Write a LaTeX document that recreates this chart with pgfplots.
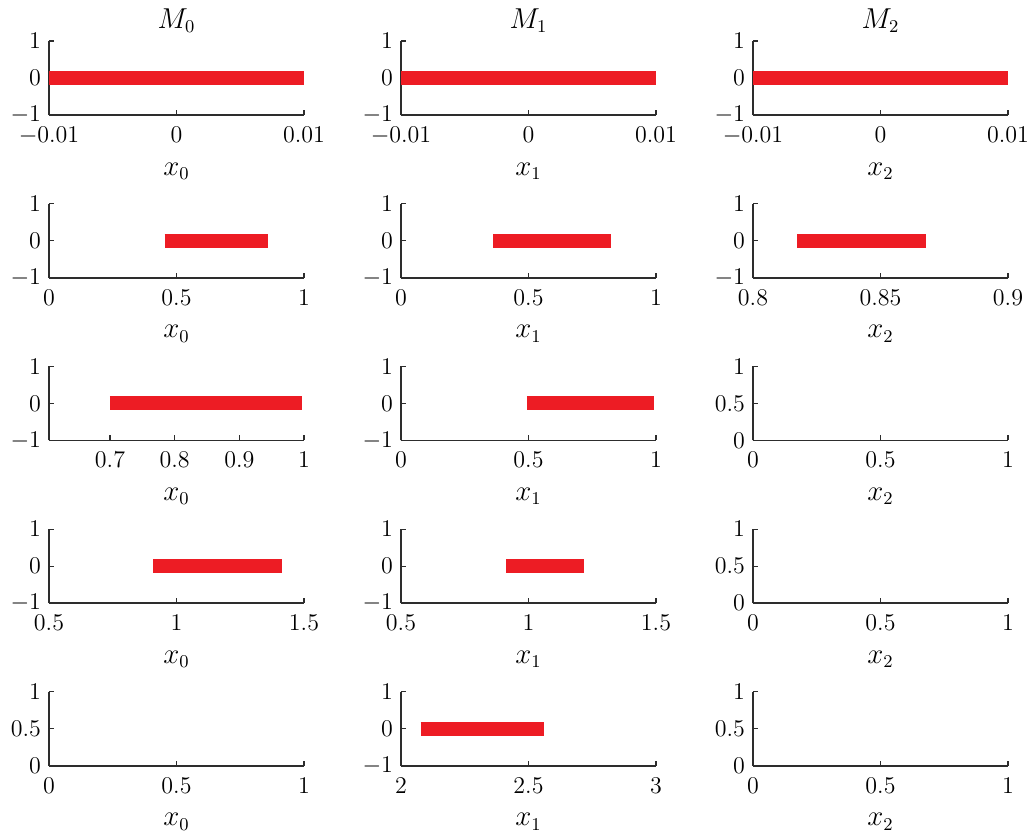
\documentclass[border=0pt]{standalone}
\usepackage{pgfplots}
\pgfplotsset{compat=1.18}
\definecolor{barred}{RGB}{237,28,36}
\definecolor{axgray}{RGB}{45,45,45}
\pgfplotsset{
  cell/.style={
    width=127.5pt, height=37pt, scale only axis,
    axis x line=bottom, axis y line=left,
    axis line style={-, line width=0.8pt, color=axgray},
    tick align=inside, major tick length=2.5pt,
    tick style={line width=0.6pt, color=axgray},
    enlargelimits=false, scaled ticks=false,
    ticklabel style={font=\fontsize{13}{15}\selectfont},
    xticklabel shift=2.5pt, yticklabel shift=0.5pt,
    xlabel style={font=\fontsize{13.5}{15}\selectfont, at={(axis description cs:0.5,0)}, anchor=base, yshift=-30pt},
    anchor=north west,
  },
  ttl/.style={extra description/.code={
    \node[font=\fontsize{13.5}{15}\selectfont, anchor=base, inner sep=0pt]
      at ([yshift=6.5pt]axis description cs:0.5,1) {#1};}},
  sym/.style={ymin=-1, ymax=1, ytick={-1,0,1}, yticklabels={$-1$,$0$,$1$}},
  pos/.style={ymin=0, ymax=1, ytick={0,0.5,1}, yticklabels={$0$,$0.5$,$1$}},
  bar/.style={color=barred, line width=7pt, line cap=butt},
}
\begin{document}
\begin{tikzpicture}
\path[use as bounding box] (0,0) rectangle (517.5pt,-418.5pt);
% ---------- row 0 ----------
\begin{axis}[cell, sym, at={(24.5pt,-20.5pt)}, ttl={$M_0$}, xlabel={$x_0$},
  xmin=-0.01, xmax=0.01, xtick={-0.01,0,0.01}, xticklabels={$-0.01$,$0$,$0.01$}]
\addplot[bar] coordinates {(-0.01,0) (0.01,0)};
\end{axis}
\begin{axis}[cell, sym, at={(200.5pt,-20.5pt)}, ttl={$M_1$}, xlabel={$x_1$},
  xmin=-0.01, xmax=0.01, xtick={-0.01,0,0.01}, xticklabels={$-0.01$,$0$,$0.01$}]
\addplot[bar] coordinates {(-0.01,0) (0.01,0)};
\end{axis}
\begin{axis}[cell, sym, at={(376.5pt,-20.5pt)}, ttl={$M_2$}, xlabel={$x_2$},
  xmin=-0.01, xmax=0.01, xtick={-0.01,0,0.01}, xticklabels={$-0.01$,$0$,$0.01$}]
\addplot[bar] coordinates {(-0.01,0) (0.01,0)};
\end{axis}
% ---------- row 1 ----------
\begin{axis}[cell, sym, at={(24.5pt,-101.85pt)}, xlabel={$x_0$},
  xmin=0, xmax=1, xtick={0,0.5,1}, xticklabels={$0$,$0.5$,$1$}]
\addplot[bar] coordinates {(0.453,0) (0.858,0)};
\end{axis}
\begin{axis}[cell, sym, at={(200.5pt,-101.85pt)}, xlabel={$x_1$},
  xmin=0, xmax=1, xtick={0,0.5,1}, xticklabels={$0$,$0.5$,$1$}]
\addplot[bar] coordinates {(0.361,0) (0.824,0)};
\end{axis}
\begin{axis}[cell, sym, at={(376.5pt,-101.85pt)}, xlabel={$x_2$},
  xmin=0.8, xmax=0.9, xtick={0.8,0.85,0.9}, xticklabels={$0.8$,$0.85$,$0.9$}]
\addplot[bar] coordinates {(0.8173,0) (0.8677,0)};
\end{axis}
% ---------- row 2 ----------
\begin{axis}[cell, sym, at={(24.5pt,-183.2pt)}, xlabel={$x_0$},
  xmin=0.6057, xmax=1, xtick={0.7,0.8,0.9,1}, xticklabels={$0.7$,$0.8$,$0.9$,$1$}]
\addplot[bar] coordinates {(0.7,0) (0.997,0)};
\end{axis}
\begin{axis}[cell, sym, at={(200.5pt,-183.2pt)}, xlabel={$x_1$},
  xmin=0, xmax=1, xtick={0,0.5,1}, xticklabels={$0$,$0.5$,$1$}]
\addplot[bar] coordinates {(0.494,0) (0.994,0)};
\end{axis}
\begin{axis}[cell, pos, at={(376.5pt,-183.2pt)}, xlabel={$x_2$},
  xmin=0, xmax=1, xtick={0,0.5,1}, xticklabels={$0$,$0.5$,$1$}]
\end{axis}
% ---------- row 3 ----------
\begin{axis}[cell, sym, at={(24.5pt,-264.55pt)}, xlabel={$x_0$},
  xmin=0.5, xmax=1.5, xtick={0.5,1,1.5}, xticklabels={$0.5$,$1$,$1.5$}]
\addplot[bar] coordinates {(0.909,0) (1.413,0)};
\end{axis}
\begin{axis}[cell, sym, at={(200.5pt,-264.55pt)}, xlabel={$x_1$},
  xmin=0.5, xmax=1.5, xtick={0.5,1,1.5}, xticklabels={$0.5$,$1$,$1.5$}]
\addplot[bar] coordinates {(0.912,0) (1.218,0)};
\end{axis}
\begin{axis}[cell, pos, at={(376.5pt,-264.55pt)}, xlabel={$x_2$},
  xmin=0, xmax=1, xtick={0,0.5,1}, xticklabels={$0$,$0.5$,$1$}]
\end{axis}
% ---------- row 4 ----------
\begin{axis}[cell, pos, at={(24.5pt,-345.9pt)}, xlabel={$x_0$},
  xmin=0, xmax=1, xtick={0,0.5,1}, xticklabels={$0$,$0.5$,$1$}]
\end{axis}
\begin{axis}[cell, sym, at={(200.5pt,-345.9pt)}, xlabel={$x_1$},
  xmin=2, xmax=3, xtick={2,2.5,3}, xticklabels={$2$,$2.5$,$3$}]
\addplot[bar] coordinates {(2.077,0) (2.560,0)};
\end{axis}
\begin{axis}[cell, pos, at={(376.5pt,-345.9pt)}, xlabel={$x_2$},
  xmin=0, xmax=1, xtick={0,0.5,1}, xticklabels={$0$,$0.5$,$1$}]
\end{axis}
\end{tikzpicture}
\end{document}
